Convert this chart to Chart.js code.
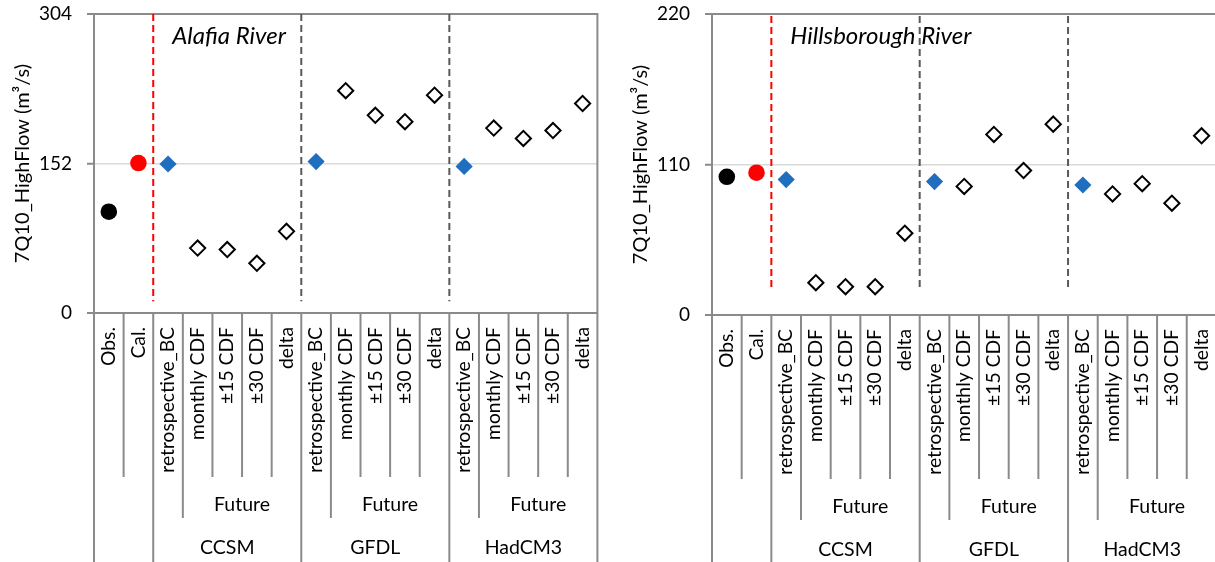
<!DOCTYPE html>
<html><head><meta charset="utf-8">
<script src="https://cdn.jsdelivr.net/npm/chart.js@4.4.1/dist/chart.umd.min.js"></script>
<style>
html,body{margin:0;padding:0;background:#fff;overflow:hidden;width:1215px;height:562px;}
#alafia{position:absolute;left:0;top:0;}
#hills{position:absolute;left:608px;top:0;}
</style></head><body>
<canvas id="alafia" width="607" height="562"></canvas>
<canvas id="hills" width="618" height="562"></canvas>
<script>
// ---- data ----
const categories = ['Obs.','Cal.',
  'retrospective_BC','monthly CDF','±15 CDF','±30 CDF','delta',
  'retrospective_BC','monthly CDF','±15 CDF','±30 CDF','delta',
  'retrospective_BC','monthly CDF','±15 CDF','±30 CDF','delta'];
const markerKinds = ['obs','cal',
  'retro','future','future','future','future',
  'retro','future','future','future','future',
  'retro','future','future','future','future'];
const periodGroups = [
  {label:'Future', from:3, to:6},
  {label:'Future', from:8, to:11},
  {label:'Future', from:13, to:16}];
const modelGroups = [
  {label:'CCSM', from:2, to:6},
  {label:'GFDL', from:7, to:11},
  {label:'HadCM3', from:12, to:16}];
const dividerBoundaries = [2, 7, 12];

const alafiaTitle = 'Alafia River';
const alafiaTicks = [0, 152, 304];
const alafiaValues = [103, 152.5, 151.5, 66, 64.5, 50.5, 83, 154, 226, 201, 194.5, 221.5, 149, 188, 177.5, 185.5, 213];
const alafiaDividerRange = [304, 12];

const hillsTitle = 'Hillsborough River';
const hillsTicks = [0, 110, 220];
const hillsValues = [101, 104, 99, 23.6, 20.7, 20.7, 59.8, 97.5, 94, 132, 105.6, 139.5, 95, 88.5, 96, 81.7, 131];
const hillsDividerRange = [218.5, 18];

const yTitle = '7Q10_HighFlow (m³/s)';

// ---- styling ----
const FONT = 'Lato, "Open Sans", sans-serif';
const AXIS_GRAY = '#8a8a8a';
Chart.defaults.font.family = FONT;
Chart.defaults.font.size = 19;
Chart.defaults.color = '#000';

const kindStyles = {
  obs:    {pointStyle:'circle',  radius:8.3, bg:'#000000', border:'#000000', bw:0},
  cal:    {pointStyle:'circle',  radius:8.3, bg:'#ff0000', border:'#ff0000', bw:0},
  retro:  {pointStyle:'rectRot', radius:8.6, bg:'#1f6ebf', border:'#1f6ebf', bw:0},
  future: {pointStyle:'rectRot', radius:7.6, bg:'#ffffff', border:'#000000', bw:2}
};

function buildDatasets(values){
  return Object.keys(kindStyles).map(kind => {
    const s = kindStyles[kind];
    return {
      label: kind,
      data: values.map((v,i) => markerKinds[i] === kind ? v : null),
      showLine:false,
      pointStyle:s.pointStyle,
      pointRadius:s.radius,
      pointHoverRadius:s.radius,
      pointBackgroundColor:s.bg,
      pointBorderColor:s.border,
      pointBorderWidth:s.bw,
      clip:false
    };
  });
}

function boundaryDepth(b){
  const n = categories.length;
  if (b === 0 || b === n) return 3;
  if (modelGroups.some(g => g.from === b || g.to + 1 === b)) return 3;
  if (periodGroups.some(g => g.from === b || g.to + 1 === b)) return 2;
  return 1;
}

const groupAxisPlugin = {
  id:'groupAxis',
  beforeDatasetsDraw(chart){
    const o = chart.options.plugins.groupAxis;
    const x = chart.scales.x, y = chart.scales.y, ctx = chart.ctx;
    const half = (x.getPixelForValue(1) - x.getPixelForValue(0)) / 2;
    ctx.save();
    ctx.lineWidth = 2;
    ctx.setLineDash([7,4]);
    dividerBoundaries.forEach((b, k) => {
      const px = x.getPixelForValue(b) - half;
      ctx.strokeStyle = k === 0 ? '#ff0000' : '#595959';
      ctx.beginPath();
      ctx.moveTo(px, y.getPixelForValue(o.dividerRange[0]));
      ctx.lineTo(px, y.getPixelForValue(o.dividerRange[1]));
      ctx.stroke();
    });
    ctx.restore();
  },
  afterDraw(chart){
    const o = chart.options.plugins.groupAxis;
    const x = chart.scales.x, ctx = chart.ctx, area = chart.chartArea;
    const half = (x.getPixelForValue(1) - x.getPixelForValue(0)) / 2;
    const row1 = area.bottom + 164, row2 = area.bottom + 205, full = chart.height;
    ctx.save();
    ctx.strokeStyle = AXIS_GRAY;
    ctx.lineWidth = 2;
    for (let b = 0; b <= categories.length; b++){
      const px = b === categories.length ? x.getPixelForValue(b-1) + half : x.getPixelForValue(b) - half;
      const d = boundaryDepth(b);
      const y0 = (b === 0 || b === categories.length) ? area.top - 1 : area.bottom;
      const y1 = d === 3 ? full : (d === 2 ? row2 : row1);
      ctx.beginPath(); ctx.moveTo(px, y0); ctx.lineTo(px, y1); ctx.stroke();
    }
    ctx.fillStyle = '#000';
    ctx.font = '19.5px ' + FONT;
    ctx.textAlign = 'center';
    ctx.textBaseline = 'middle';
    periodGroups.forEach(g => {
      const cx = (x.getPixelForValue(g.from) + x.getPixelForValue(g.to)) / 2;
      ctx.fillText(g.label, cx, area.bottom + 192);
    });
    modelGroups.forEach(g => {
      const cx = (x.getPixelForValue(g.from) + x.getPixelForValue(g.to)) / 2;
      ctx.fillText(g.label, cx, area.bottom + 235);
    });
    // river name
    ctx.font = 'italic 24px ' + FONT;
    ctx.textAlign = 'left';
    ctx.fillText(o.title, x.getPixelForValue(dividerBoundaries[0]) - half + 19, area.top + 22);
    ctx.restore();
  }
};

function makeChart(id, values, ticks, dividerRange, title, padLeft, axisHeight){
  return new Chart(document.getElementById(id), {
    type:'line',
    data:{ labels:categories, datasets:buildDatasets(values) },
    options:{
      responsive:false,
      animation:false,
      events:[],
      layout:{ padding:{ left:padLeft, right:7, top:14, bottom:0 } },
      plugins:{
        legend:{display:false},
        tooltip:{enabled:false},
        groupAxis:{ dividerRange:dividerRange, title:title }
      },
      scales:{
        x:{
          type:'category',
          offset:true,
          grid:{ display:false, drawTicks:false },
          border:{ display:true, color:AXIS_GRAY, width:2 },
          ticks:{ autoSkip:false, minRotation:90, maxRotation:90, padding:14, font:{size:19.3} },
          afterFit(scale){ scale.height = axisHeight; scale.paddingLeft = 0; scale.paddingRight = 0; }
        },
        y:{
          min:ticks[0], max:ticks[ticks.length-1],
          afterBuildTicks(scale){ scale.ticks = ticks.map(v => ({value:v})); },
          grid:{
            color: c => (c.tick && c.tick.value === ticks[1]) ? '#d9d9d9' : AXIS_GRAY,
            lineWidth: c => (c.tick && c.tick.value === ticks[1]) ? 1.5 : 2,
            tickColor: AXIS_GRAY, tickWidth:2, tickLength:7, drawTicks:true
          },
          border:{ display:true, color:AXIS_GRAY, width:2 },
          ticks:{ padding:15, font:{size:19} },
          title:{ display:true, text:yTitle, font:{size:20}, padding:{top:11, bottom:0} },
          afterFit(scale){ scale.width = 94; scale.paddingTop = 0; scale.paddingBottom = 0; }
        }
      }
    },
    plugins:[groupAxisPlugin]
  });
}

makeChart('alafia', alafiaValues, alafiaTicks, alafiaDividerRange, alafiaTitle, 0, 249);
makeChart('hills', hillsValues, hillsTicks, hillsDividerRange, hillsTitle, 10, 247);
</script>
</body></html>
